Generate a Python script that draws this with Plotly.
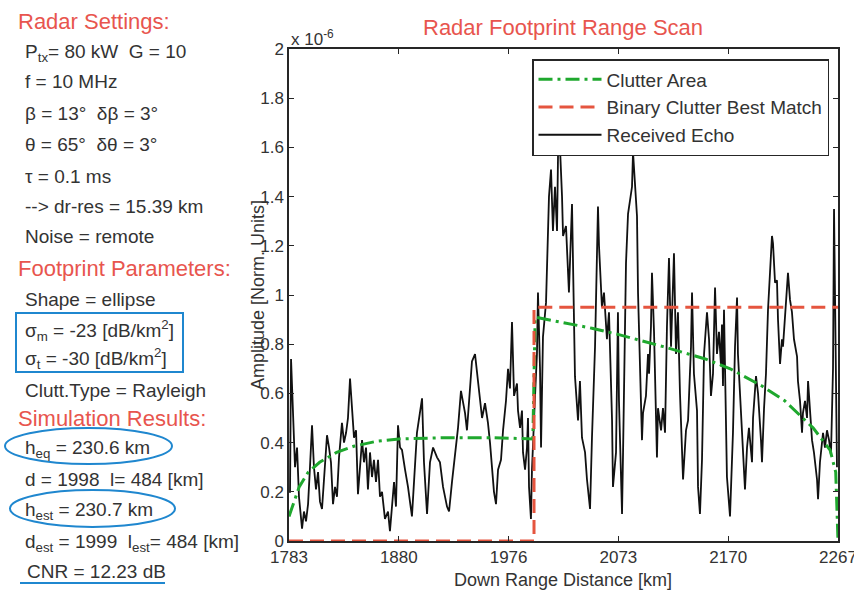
import plotly.graph_objects as go

# ---------------- data (amplitude in units of 1e-6) ----------------
echo_km = [
    1783.0, 1783.9, 1784.8, 1786.5, 1788.3, 1790.1, 1791.8, 1794.5, 1796.2, 1798.0,
    1799.8, 1801.5, 1803.3, 1805.0, 1806.8, 1808.6, 1810.3, 1812.1, 1814.7, 1816.5,
    1818.3, 1820.0, 1821.8, 1823.6, 1825.3, 1827.1, 1829.7, 1831.5, 1833.3, 1835.0,
    1836.8, 1838.5, 1840.3, 1842.1, 1843.8, 1845.6, 1847.4, 1849.1, 1850.9, 1852.6,
    1854.4, 1856.2, 1857.9, 1859.7, 1861.5, 1863.2, 1865.0, 1867.6, 1870.3, 1872.0,
    1873.8, 1875.6, 1877.3, 1879.1, 1880.9, 1882.6, 1885.3, 1887.9, 1891.4, 1894.1,
    1895.8, 1900.3, 1902.0, 1904.7, 1907.3, 1910.0, 1913.5, 1916.1, 1918.8, 1922.3,
    1924.1, 1926.7, 1929.3, 1932.0, 1934.6, 1938.2, 1939.9, 1942.6, 1944.3, 1947.0,
    1949.6, 1951.4, 1953.2, 1955.8, 1958.4, 1960.2, 1962.0, 1963.7, 1965.5, 1967.3,
    1969.9, 1971.7, 1974.3, 1976.1, 1977.8, 1979.6, 1981.4, 1984.0, 1984.9, 1986.7,
    1988.4, 1989.3, 1991.1, 1992.8, 1993.7, 1994.6, 1996.3, 1997.2, 1999.9, 2001.6,
    2002.5, 2004.3, 2005.2, 2006.9, 2009.6, 2011.3, 2012.2, 2014.0, 2015.7, 2017.5,
    2019.3, 2020.2, 2021.9, 2023.7, 2024.6, 2027.2, 2029.0, 2029.8, 2032.5, 2033.4,
    2035.1, 2037.8, 2039.5, 2041.3, 2044.0, 2045.7, 2048.4, 2050.1, 2052.8, 2055.4,
    2056.3, 2058.9, 2060.7, 2063.3, 2065.1, 2067.8, 2068.6, 2071.3, 2073.0, 2073.9,
    2076.6, 2077.5, 2080.1, 2081.9, 2083.6, 2085.4, 2086.3, 2088.0, 2089.8, 2090.7,
    2092.4, 2094.2, 2095.1, 2097.7, 2099.5, 2100.4, 2102.1, 2103.0, 2104.8, 2107.4,
    2108.3, 2111.0, 2112.7, 2114.5, 2116.2, 2118.0, 2119.8, 2120.7, 2122.4, 2124.2,
    2125.9, 2127.7, 2129.5, 2130.4, 2133.0, 2134.8, 2137.4, 2138.3, 2140.0, 2142.7,
    2143.6, 2145.3, 2147.1, 2148.9, 2151.5, 2153.3, 2155.0, 2156.8, 2158.6, 2160.3,
    2162.1, 2163.9, 2164.7, 2165.6, 2166.5, 2168.3, 2169.1, 2171.8, 2174.4, 2176.2,
    2178.0, 2178.8, 2181.5, 2183.2, 2185.0, 2186.8, 2188.5, 2191.2, 2192.1, 2194.7,
    2196.5, 2199.1, 2200.0, 2201.8, 2203.5, 2205.3, 2207.1, 2208.8, 2209.7, 2211.5,
    2213.2, 2214.1, 2215.9, 2217.6, 2218.5, 2221.2, 2222.9, 2224.7, 2226.4, 2228.2,
    2230.9, 2231.7, 2233.5, 2235.3, 2236.1, 2237.9, 2239.7, 2240.6, 2242.3, 2244.1,
    2245.8, 2248.5, 2249.4, 2251.1, 2253.8, 2255.5, 2257.3, 2259.1, 2260.8, 2262.6,
    2263.5, 2264.4, 2265.2, 2266.1,
]
echo_amp = [
    0.20, 0.20, 0.74, 0.55, 0.30, 0.38, 0.18, 0.05, 0.12, 0.08,
    0.15, 0.30, 0.47, 0.30, 0.21, 0.28, 0.16, 0.13, 0.30, 0.43,
    0.38, 0.32, 0.15, 0.22, 0.18, 0.34, 0.48, 0.40, 0.44, 0.50,
    0.66, 0.55, 0.42, 0.45, 0.19, 0.30, 0.41, 0.32, 0.38, 0.21,
    0.36, 0.26, 0.33, 0.24, 0.33, 0.18, 0.20, 0.09, 0.12, 0.04,
    0.14, 0.24, 0.14, 0.47, 0.38, 0.37, 0.29, 0.22, 0.10, 0.34,
    0.44, 0.58, 0.32, 0.11, 0.32, 0.38, 0.34, 0.32, 0.22, 0.14,
    0.12, 0.24, 0.34, 0.46, 0.61, 0.52, 0.45, 0.60, 0.73, 0.76,
    0.64, 0.56, 0.50, 0.56, 0.48, 0.40, 0.28, 0.20, 0.15, 0.29,
    0.33, 0.45, 0.57, 0.70, 0.62, 0.89, 0.59, 0.64, 0.53, 0.46,
    0.53, 0.36, 0.29, 0.38, 0.50, 0.22, 0.09, 0.29, 0.59, 0.76,
    1.01, 0.70, 0.38, 0.83, 0.97, 1.21, 1.40, 1.51, 1.26, 1.44,
    1.26, 1.58, 1.60, 1.40, 1.24, 1.28, 1.06, 1.01, 1.37, 1.14,
    0.67, 0.49, 0.65, 0.42, 0.36, 0.25, 0.13, 0.42, 0.79, 1.36,
    1.20, 0.95, 1.01, 0.82, 0.93, 0.49, 0.22, 0.36, 0.93, 0.57,
    0.11, 0.36, 1.13, 1.33, 1.39, 1.44, 1.58, 1.44, 1.32, 1.01,
    0.70, 0.41, 0.52, 0.59, 0.76, 0.68, 0.87, 1.09, 0.85, 0.34,
    0.54, 0.45, 0.54, 0.44, 0.87, 1.15, 0.79, 0.93, 1.17, 0.76,
    0.93, 0.60, 0.41, 0.25, 0.45, 0.49, 0.79, 1.01, 0.68, 0.53,
    0.22, 0.11, 0.33, 0.76, 0.93, 0.82, 0.59, 0.68, 1.03, 0.76,
    0.85, 0.71, 0.88, 0.63, 0.94, 0.50, 0.26, 0.10, 0.44, 0.79,
    0.99, 0.76, 0.50, 0.36, 0.21, 0.38, 0.46, 0.32, 0.50, 0.67,
    0.60, 0.41, 0.32, 0.54, 0.68, 0.94, 1.11, 1.24, 1.21, 1.05,
    1.06, 0.90, 0.72, 0.82, 0.79, 0.95, 1.09, 0.98, 0.93, 0.82,
    0.75, 0.65, 0.57, 0.44, 0.52, 0.57, 0.50, 0.65, 0.54, 0.41,
    0.36, 0.25, 0.17, 0.32, 0.44, 0.38, 0.45, 0.41, 0.35, 0.70,
    1.35, 0.90, 0.55, 0.30,
]

clutter_km = [1783, 1786, 1792, 1800, 1810, 1825, 1840, 1860, 1880, 1920, 1960, 1998,
              2000, 2050, 2073, 2113, 2150, 2172, 2200, 2220, 2245, 2260, 2265, 2267]
clutter_amp = [0.10, 0.14, 0.22, 0.28, 0.32, 0.36, 0.385, 0.405, 0.415, 0.42, 0.42, 0.415,
               0.91, 0.865, 0.84, 0.79, 0.74, 0.70, 0.63, 0.57, 0.46, 0.37, 0.28, 0.0]

match_km = [1783, 1999, 1999, 2267]
match_amp = [0.0, 0.0, 0.95, 0.95]

x_tickvals = [1783, 1879.8, 1976.6, 2073.4, 2170.2, 2267]
x_ticktext = ["1783", "1880", "1976", "2073", "2170", "2267"]
y_tickvals = [0, 0.2, 0.4, 0.6, 0.8, 1.0, 1.2, 1.4, 1.6, 1.8, 2.0]
y_ticktext = ["0", "0.2", "0.4", "0.6", "0.8", "1", "1.2", "1.4", "1.6", "1.8", "2"]

# ---------------- styling ----------------
FONT = "Liberation Sans, Arial, sans-serif"
RED_TXT = "#e8554e"
DARK = "#333333"
BLUE = "#1f87cf"
GREEN = "#1fa82e"
RED = "#e5553f"

# plot area in pixels (reference): left 289, right 838, top 49, bottom 541
L, R, T, B = 289, 838, 49, 541
W, H = 854, 592


def px(x):
    return (x - L) / (R - L)


def py(y):
    return (B - y) / (B - T)


fig = go.Figure()

fig.add_trace(go.Scatter(
    x=echo_km, y=echo_amp, mode="lines", name="Received Echo",
    line=dict(color="#111111", width=1.8), legendrank=3,
))
fig.add_trace(go.Scatter(
    x=clutter_km, y=clutter_amp, mode="lines", name="Clutter Area",
    line=dict(color=GREEN, width=3, dash="14px,5px,3px,5px"), legendrank=1,
))
fig.add_trace(go.Scatter(
    x=match_km, y=match_amp, mode="lines", name="Binary Clutter Best Match",
    line=dict(color=RED, width=3, dash="14px,7px"), legendrank=2,
))

axis_common = dict(
    showline=True, linecolor="#262626", linewidth=1.5, mirror="ticks",
    ticks="inside", ticklen=5, tickcolor="#262626", showgrid=False, zeroline=False,
    tickfont=dict(family=FONT, size=17, color=DARK), automargin=False,
)
fig.update_xaxes(range=[1783, 2267], tickvals=x_tickvals, ticktext=x_ticktext,
                 ticklabeloverflow="allow", **axis_common)
fig.update_yaxes(range=[0, 2], tickvals=y_tickvals, ticktext=y_ticktext, **axis_common)

annotations = []


def txt(text, x, y, size=19, color=DARK, xanchor="left", **kw):
    annotations.append(dict(
        text=text, x=px(x), y=py(y), xref="paper", yref="paper",
        xanchor=xanchor, yanchor="middle", showarrow=False,
        font=dict(family=FONT, size=size, color=color), **kw))


# title / axis labels
txt("Radar Footprint Range Scan", 563, 28, size=22, color=RED_TXT, xanchor="center")
txt("Down Range Distance [km]", 563, 580, size=18, color=DARK, xanchor="center")
txt("Amplitude [Norm. Units]", 258, 295, size=18, color=DARK, xanchor="center", textangle=-90)
txt("x 10<sup>-6</sup>", 289, 38, size=17, color=DARK)

# left info panel
txt("Radar Settings:", 16, 22, size=22, color=RED_TXT)
txt("P<sub>tx</sub>= 80 kW  G = 10", 23, 53)
txt("f = 10 MHz", 23, 82)
txt("β = 13°  δβ = 3°", 23, 113)
txt("θ = 65°  δθ = 3°", 23, 145)
txt("τ = 0.1 ms", 23, 176)
txt("--> dr-res = 15.39 km", 23, 206)
txt("Noise = remote", 23, 237)
txt("Footprint Parameters:", 16, 268, size=22, color=RED_TXT)
txt("Shape = ellipse", 23, 299)
txt("σ<sub>m</sub> = -23 [dB/km<sup>2</sup>]", 23, 330)
txt("σ<sub>t</sub> = -30 [dB/km<sup>2</sup>]", 23, 358)
txt("Clutt.Type = Rayleigh", 23, 390)
txt("Simulation Results:", 16, 418, size=22, color=RED_TXT)
txt("h<sub>eq</sub> = 230.6 km", 23, 449)
txt("d = 1998  l= 484 [km]", 23, 479)
txt("h<sub>est</sub> = 230.7 km", 23, 511)
txt("d<sub>est</sub> = 1999  l<sub>est</sub>= 484 [km]", 23, 543)
txt("CNR = 12.23 dB", 25, 571)

shapes = [
    dict(type="rect", xref="paper", yref="paper", x0=px(16), x1=px(183), y0=py(372), y1=py(313),
         line=dict(color=BLUE, width=2)),
    dict(type="circle", xref="paper", yref="paper", x0=px(5), x1=px(172), y0=py(464), y1=py(428),
         line=dict(color=BLUE, width=2)),
    dict(type="circle", xref="paper", yref="paper", x0=px(10), x1=px(175), y0=py(527), y1=py(490),
         line=dict(color=BLUE, width=2)),
    dict(type="line", xref="paper", yref="paper", x0=px(20), x1=px(165), y0=py(583), y1=py(583),
         line=dict(color=BLUE, width=2)),
]

fig.update_layout(
    width=W, height=H, autosize=False,
    margin=dict(l=L, r=W - R, t=T, b=H - B, pad=0, autoexpand=False),
    paper_bgcolor="white", plot_bgcolor="white",
    font=dict(family=FONT, color=DARK),
    showlegend=True,
    legend=dict(
        x=px(829), y=py(59), xanchor="right", yanchor="top",
        bgcolor="white", bordercolor="#262626", borderwidth=1.5,
        font=dict(family=FONT, size=19, color=DARK),
        itemwidth=63, tracegroupgap=0,
    ),
    annotations=annotations,
    shapes=shapes,
)

fig.write_html("out.html")
